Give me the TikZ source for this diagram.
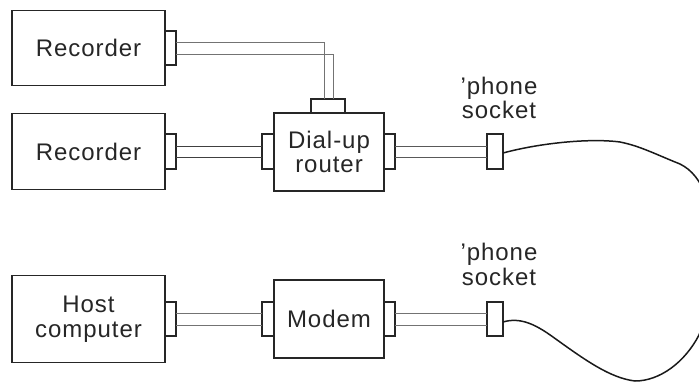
\documentclass[tikz,border=0pt]{standalone}
\usepackage{fontspec}
\setmainfont[LetterSpace=4]{Liberation Sans}
\tikzset{
  x=1pt,y=-1pt,
  box/.style={draw=black!85,line width=1.6pt,rectangle,inner sep=0pt,outer sep=0pt,align=center,font=\fontsize{24}{24.5}\selectfont,text=black!85},
  plug/.style={draw=black!85,line width=1.6pt,fill=white,rectangle,inner sep=0pt,outer sep=0pt},
  wire/.style={line width=1pt,draw=black!#1},
  wire/.default=55,
  cord/.style={line width=1.5pt,draw=black!90},
  lbl/.style={inner sep=0pt,align=center,font=\fontsize{24}{24.5}\selectfont,text=black!85}
}
\begin{document}
\begin{tikzpicture}
\useasboundingbox (0,0) rectangle (699,381);
% boxes
\node[box,minimum width=153pt,minimum height=75pt] (rec1) at (88.5,48) {Recorder};
\node[box,minimum width=153pt,minimum height=76pt] (rec2) at (88.5,151.5) {Recorder};
\node[box,minimum width=153pt,minimum height=87pt] (host) at (88.5,319) {Host\\computer};
\node[box,minimum width=110pt,minimum height=78pt] (router) at (329,152) {Dial-up\\router};
\node[box,minimum width=110pt,minimum height=78pt] (modem) at (329,319) {Modem};
% plugs
\node[plug,minimum width=11pt,minimum height=34pt] (p1) at (170.5,48) {};
\node[plug,minimum width=11pt,minimum height=35pt] (p2) at (170.5,151.5) {};
\node[plug,minimum width=11pt,minimum height=34pt] (p3) at (170.5,319) {};
\node[plug,minimum width=12pt,minimum height=35pt] (rl) at (268,151.5) {};
\node[plug,minimum width=34pt,minimum height=14pt] (rt) at (328,106) {};
\node[plug,minimum width=11pt,minimum height=35pt] (rr) at (389.5,151.5) {};
\node[plug,minimum width=12pt,minimum height=34pt] (ml) at (268,319) {};
\node[plug,minimum width=11pt,minimum height=34pt] (mr) at (389.5,319) {};
\node[plug,minimum width=16pt,minimum height=35pt] (s1) at (495,151.5) {};
\node[plug,minimum width=16pt,minimum height=34pt] (s2) at (495,319) {};
% wires
\draw[wire] ([yshift=-6pt]p1.east) -| ([xshift=5pt]rt.north);
\draw[wire] ([yshift=6pt]p1.east) -| ([xshift=-4pt]rt.north);
\draw[wire=75] ([yshift=-5.5pt]p2.east) -- ([yshift=-5.5pt]rl.west);
\draw[wire=75] ([yshift=5.5pt]p2.east) -- ([yshift=5.5pt]rl.west);
\draw[wire=65] ([yshift=-5.5pt]rr.east) -- ([yshift=-5.5pt]s1.west);
\draw[wire=65] ([yshift=5.5pt]rr.east) -- ([yshift=5.5pt]s1.west);
\draw[wire] ([yshift=-6pt]p3.east) -- ([yshift=-6pt]ml.west);
\draw[wire] ([yshift=6pt]p3.east) -- ([yshift=6pt]ml.west);
\draw[wire] ([yshift=-6pt]mr.east) -- ([yshift=-6pt]s2.west);
\draw[wire] ([yshift=6pt]mr.east) -- ([yshift=6pt]s2.west);
% labels
\node[lbl] (l1) at (499,98) {\symbol{39}phone\\socket};
\node[lbl] (l2) at (499,264.5) {\symbol{39}phone\\socket};
% cord
\begin{scope}
\clip (0,0) rectangle (699,381);
\draw[cord] ([yshift=-1.5pt]s1.east) .. controls (540,143) and (590,138) .. (620,142)
  .. controls (640,146) and (655,154) .. (680,164)
  .. controls (692,170) and (700,180) .. (708,200)
  .. controls (715,250) and (712,300) .. (699,335)
  .. controls (685,362) and (660,381) .. (635,381)
  .. controls (610,378) and (585,360) .. (553,337)
  .. controls (535,324) and (520,317) .. ([yshift=-3pt]s2.east);
\end{scope}
\end{tikzpicture}
\end{document}
